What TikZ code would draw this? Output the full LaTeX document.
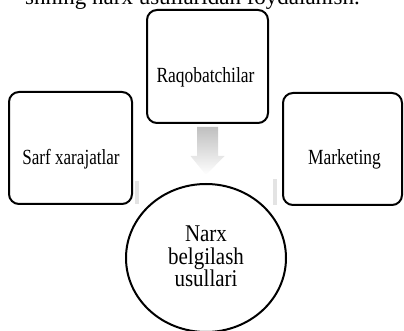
\documentclass[tikz,border=0pt]{standalone}
\usepackage{fontspec}
\setmainfont{Liberation Serif}
\usetikzlibrary{shapes.geometric,calc}
\begin{document}
\begin{tikzpicture}[x=1pt,y=-1pt,
  box/.style={draw=black,line width=2pt,rounded corners=10pt,inner sep=0pt},
  lbl/.style={font=\fontsize{18}{20}\selectfont,inner sep=0pt},
  circ/.style={draw=black,line width=2pt,ellipse,inner sep=0pt,minimum width=160pt,minimum height=148pt},
  ctext/.style={font=\fontsize{20}{21}\selectfont,align=center,inner sep=0pt},
  arrowfill/.style={top color=gray!50,bottom color=white,draw=none},
  sidefill/.style={fill=gray!22,draw=none}]
\useasboundingbox (0,0) rectangle (404,331);
\node[anchor=base east,font=\fontsize{23}{25}\selectfont,inner sep=0pt] (title) at (360,5) {shning narx usullaridan foydalanish.};
\node[box,minimum width=121pt,minimum height=113pt] (top) at (207.5,66.5) {};
\node[box,minimum width=123pt,minimum height=112pt] (left) at (70.5,148) {};
\node[box,minimum width=119pt,minimum height=112pt] (right) at (342.5,149) {};
\node[lbl] (toptext) at (205.5,77) {\scalebox{0.97}[1.2]{Raqobatchilar}};
\node[lbl] (lefttext) at (71,159) {\scalebox{0.95}[1.2]{Sarf xarajatlar}};
\node[lbl] (righttext) at (344.5,159) {\scalebox{0.97}[1.2]{Marketing}};
\node[circ] (circle) at (206,258) {};
\node[ctext] (ctxt) at (206,259) {\scalebox{1.05}[1.2]{\begin{tabular}{@{}c@{}}Narx\\[-2pt]belgilash\\[-2pt]usullari\end{tabular}}};
\shade[arrowfill] ($(top.south)+(-10.5,3)$) -- ($(top.south)+(10.5,3)$) -- ($(top.south)+(10.5,32)$) -- ($(top.south)+(17,32)$) -- ($(circle.north)+(0,-8)$) -- ($(top.south)+(-17,32)$) -- ($(top.south)+(-10.5,32)$) -- cycle;
\fill[sidefill] ($(left.south east)+(2,-24)$) rectangle ($(left.south east)+(6,-1)$);
\fill[sidefill] ($(right.south west)+(-9,-27)$) rectangle ($(right.south west)+(-5,-1)$);
\end{tikzpicture}
\end{document}
